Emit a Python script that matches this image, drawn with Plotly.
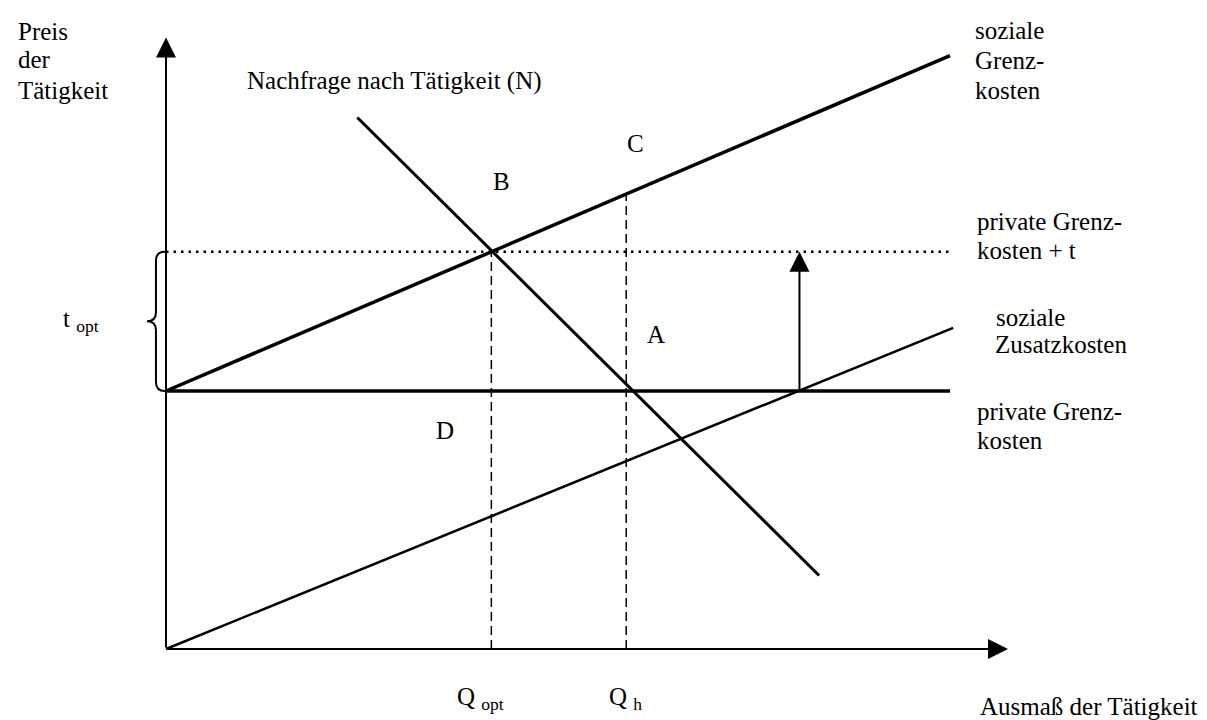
import plotly.graph_objects as go

q_opt = 4.15
q_h = 5.87

private_mc = 10.0          # private Grenzkosten
price_tax = 15.4           # private Grenzkosten + t
tax_q = [0.0, 10.0]

social_mc_q = [0.0, 10.0]
social_mc_p = [10.0, 23.0]

external_q = [0.0, 10.04]
external_p = [0.0, 12.45]

demand_q = [2.44, 8.33]
demand_p = [20.6, 2.85]

q_arrow = 8.08
axis_q_max = 10.74
axis_p_max = 23.7

W, H = 1207, 720
FONT = "Liberation Serif"
FS = 25


def social_at(q):
    return social_mc_p[0] + (social_mc_p[1] - social_mc_p[0]) * q / social_mc_q[1]


fig = go.Figure()

# Hilfslinien
fig.add_trace(go.Scatter(x=tax_q, y=[price_tax, price_tax], mode="lines",
                         line=dict(color="black", width=2.5, dash="2.5px,5px")))
fig.add_trace(go.Scatter(x=[q_opt, q_opt], y=[0, price_tax], mode="lines",
                         line=dict(color="black", width=1.5, dash="9px,5px")))
fig.add_trace(go.Scatter(x=[q_h, q_h], y=[0, social_at(q_h)], mode="lines",
                         line=dict(color="black", width=1.5, dash="9px,5px")))

# Kurven
fig.add_trace(go.Scatter(x=social_mc_q, y=social_mc_p, mode="lines",
                         line=dict(color="black", width=3.5)))
fig.add_trace(go.Scatter(x=[0, social_mc_q[1]], y=[private_mc, private_mc], mode="lines",
                         line=dict(color="black", width=3.5)))
fig.add_trace(go.Scatter(x=external_q, y=external_p, mode="lines",
                         line=dict(color="black", width=2.5)))
fig.add_trace(go.Scatter(x=demand_q, y=demand_p, mode="lines",
                         line=dict(color="black", width=3)))

# Achsen und Pfeil als Annotationen
for (x0, y0, x1, y1, w) in [(0, 0, 0, axis_p_max, 2),
                            (0, 0, axis_q_max, 0, 2),
                            (q_arrow, private_mc, q_arrow, price_tax, 2)]:
    fig.add_annotation(x=x1, y=y1, ax=x0, ay=y0, xref="x", yref="y", axref="x", ayref="y",
                       text="", showarrow=True, arrowhead=2, arrowsize=2, arrowwidth=w,
                       arrowcolor="black", standoff=0)

# geschweifte Klammer für t_opt
bx0, bxm, bxt, r = -0.013, -0.128, -0.242, 0.35
mid = (price_tax + private_mc) / 2
brace = (f"M{bx0},{price_tax} Q{bxm},{price_tax} {bxm},{price_tax - r} "
         f"L{bxm},{mid + r} Q{bxm},{mid} {bxt},{mid} "
         f"Q{bxm},{mid} {bxm},{mid - r} L{bxm},{private_mc + r} "
         f"Q{bxm},{private_mc} {bx0},{private_mc}")
fig.add_shape(type="path", path=brace, xref="x", yref="y",
              line=dict(color="black", width=2))


def label(text, x, y, anchor="left"):
    fig.add_annotation(x=x / W, y=1 - y / H, xref="paper", yref="paper", text=text,
                       showarrow=False, xanchor=anchor, yanchor="middle",
                       font=dict(family=FONT, size=FS, color="black"))


label("Preis", 8, 23)
label("der", 8, 52)
label("Tätigkeit", 8, 82)
label("Nachfrage nach Tätigkeit (N)", 237, 73)

label("soziale", 965, 22)
label("Grenz-", 965, 53)
label("kosten", 965, 82)
label("private Grenz-", 967, 213)
label("kosten + t", 967, 242)
label("soziale", 986, 309)
label("Zusatzkosten", 985, 336)
label("private Grenz-", 967, 403)
label("kosten", 967, 432)

label("C", 627, 135, "center")
label("B", 493, 173, "center")
label("A", 648, 327, "center")
label("D", 437, 422, "center")
label("t <sub>opt</sub>", 53, 312)
label("Q <sub>opt</sub>", 472, 690, "center")
label("Q <sub>h</sub>", 618, 690, "center")
label("Ausmaß der Tätigkeit", 1192, 698, "right")

# Pixel -> Daten: Ursprung bei (158, 641), 78.4 px je Q, 25.8 px je P
x_lo = -158 / 78.4
y_lo = -(H - 641) / 25.8
fig.update_layout(
    width=W, height=H, margin=dict(l=0, r=0, t=0, b=0),
    paper_bgcolor="white", plot_bgcolor="white", showlegend=False,
    xaxis=dict(range=[x_lo, x_lo + W / 78.4], visible=False),
    yaxis=dict(range=[y_lo, y_lo + H / 25.8], visible=False),
)

fig.write_html("out.html")
